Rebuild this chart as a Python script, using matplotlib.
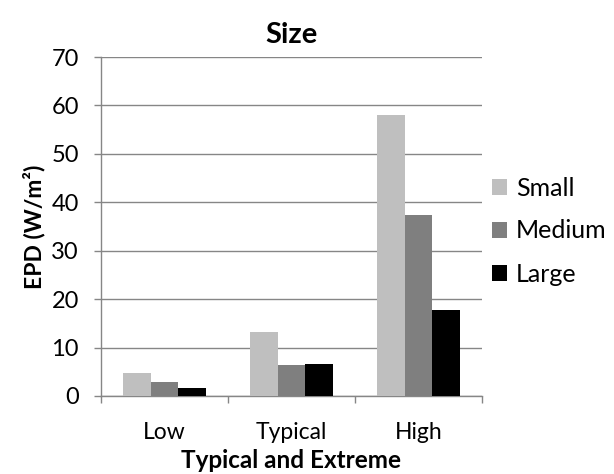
import numpy as np
import matplotlib
matplotlib.use("Agg")
import matplotlib.pyplot as plt

# === データ ===
categories = ["Low", "Typical", "High"]
series_names = ["Small", "Medium", "Large"]
small = [4.7, 13.2, 58.0]
medium = [2.9, 6.3, 37.4]
large = [1.6, 6.6, 17.8]
colors = ["#bfbfbf", "#7f7f7f", "#000000"]

plt.rcParams["font.family"] = ["Lato", "DejaVu Sans"]

fig = plt.figure(figsize=(6.14, 4.74), dpi=100)
ax = fig.add_axes([0.1645, 0.1646, 0.6205, 0.7151])

x = np.arange(len(categories))
w = 0.22
for i, (vals, name) in enumerate(zip([small, medium, large], series_names)):
    ax.bar(x + (i - 1) * w, vals, width=w, color=colors[i], label=name, zorder=3)

ax.set_xlim(-0.5, 2.5)
ax.set_ylim(0, 70)
ax.set_yticks(range(0, 71, 10))
ax.set_xticks(x)
ax.set_xticklabels(categories)
# カテゴリ境界の目盛り
ax.set_xticks([-0.5, 0.5, 1.5, 2.5], minor=True)
ax.tick_params(axis="x", which="major", length=0, labelsize=16.5, pad=19)
ax.tick_params(axis="x", which="minor", length=5, color="#868686", width=1)
ax.tick_params(axis="y", length=5, color="#868686", width=1, labelsize=17, pad=11)

ax.grid(axis="y", color="#868686", linewidth=1, zorder=0)
for s in ["top", "right"]:
    ax.spines[s].set_visible(False)
for s in ["left", "bottom"]:
    ax.spines[s].set_color("#868686")
    ax.spines[s].set_linewidth(1)

ax.set_title("Size", fontsize=21, fontweight="bold", pad=10)
ax.set_xlabel("Typical and Extreme", fontsize=17.5, fontweight="bold", labelpad=4)
ax.set_ylabel("EPD (W/m²)", fontsize=16.5, fontweight="bold", labelpad=4)

ax.legend(loc="center left", bbox_to_anchor=(492 / 614, 1 - 231 / 474),
          bbox_transform=fig.transFigure, frameon=False,
          fontsize=18, handlelength=0.6, handleheight=0.6, handletextpad=0.35,
          labelspacing=0.8, borderaxespad=0, borderpad=0)

fig.savefig("out.png", dpi=100)
